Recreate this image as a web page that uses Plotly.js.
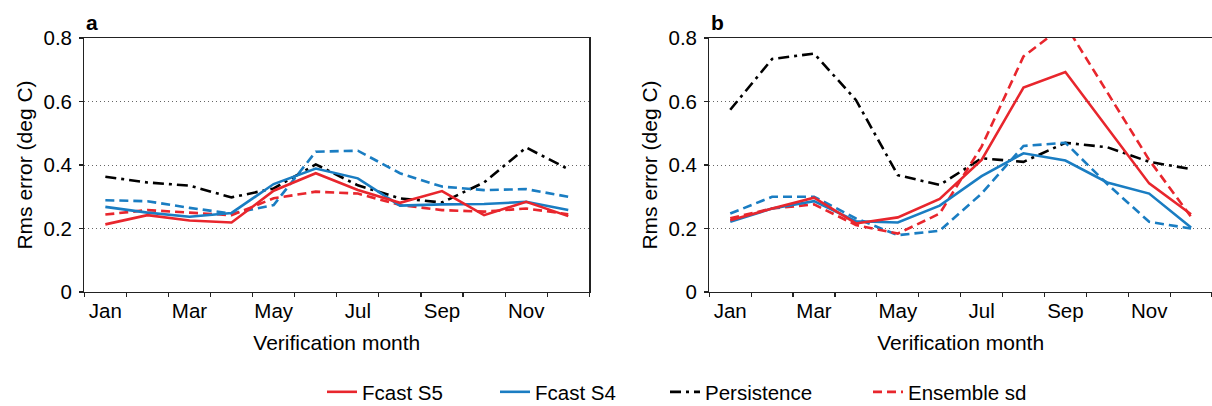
<!DOCTYPE html>
<html>
<head>
<meta charset="utf-8">
<script src="https://cdn.plot.ly/plotly-3.0.1.min.js"></script>
<style>html,body{margin:0;padding:0;background:#fff}#chart{width:1212px;height:406px}</style>
</head>
<body>
<div id="chart"></div>
<script>
// ---- data ----
const monthIndex = [1,2,3,4,5,6,7,8,9,10,11,12];
const monthNames = ['Jan','Feb','Mar','Apr','May','Jun','Jul','Aug','Sep','Oct','Nov','Dec'];
const tickMonths = [1,3,5,7,9,11];
const tickLabels = ['Jan','Mar','May','Jul','Sep','Nov'];
const yTicks = [0,0.2,0.4,0.6,0.8];
const yTickLabels = ['0','0.2','0.4','0.6','0.8'];
const seriesNames = ['Fcast S5','Fcast S4','Persistence','Ensemble sd'];

// panel a
const aFcastS5   = [0.213,0.242,0.225,0.219,0.319,0.374,0.321,0.281,0.318,0.242,0.284,0.239];
const aFcastS4   = [0.268,0.250,0.237,0.249,0.340,0.389,0.358,0.272,0.276,0.277,0.284,0.258];
const aPersist   = [0.363,0.345,0.335,0.298,0.326,0.402,0.336,0.295,0.282,0.345,0.455,0.387];
const aEnsSdS5   = [0.244,0.258,0.250,0.242,0.295,0.316,0.310,0.274,0.258,0.253,0.263,0.245];
const aEnsSdS4   = [0.289,0.286,0.265,0.247,0.274,0.442,0.445,0.374,0.332,0.321,0.324,0.300];

// panel b
const bFcastS5   = [0.226,0.263,0.297,0.216,0.235,0.293,0.416,0.644,0.693,0.516,0.342,0.245];
const bFcastS4   = [0.221,0.263,0.286,0.223,0.219,0.272,0.365,0.437,0.414,0.345,0.310,0.203];
const bPersist   = [0.574,0.734,0.751,0.605,0.368,0.337,0.421,0.410,0.470,0.456,0.410,0.387];
const bEnsSdS5   = [0.232,0.263,0.276,0.211,0.184,0.247,0.458,0.742,0.842,0.630,0.416,0.237];
const bEnsSdS4   = [0.247,0.300,0.300,0.232,0.179,0.193,0.310,0.460,0.470,0.340,0.221,0.200];

// ---- styles ----
const RED = '#e8262d', BLUE = '#1a7dc2', BLACK = '#000000';
const LW = 2.6;
const DASH = '9px,5px';
const DASHDOT = '11px,5px,3px,5px';

function tr(y, xa, ya, color, dash, name, legendId, show){
  return {x: monthIndex, y: y, xaxis: xa, yaxis: ya, type:'scatter', mode:'lines',
    name: name, legend: legendId, showlegend: show, hoverinfo:'skip',
    line:{color: color, width: LW, dash: dash}};
}

const data = [
  tr(aPersist,'x','y',BLACK,DASHDOT,seriesNames[2],'legend3',true),
  tr(aEnsSdS4,'x','y',BLUE,DASH,'S4 sd','legend',false),
  tr(aEnsSdS5,'x','y',RED,DASH,seriesNames[3],'legend4',true),
  tr(aFcastS4,'x','y',BLUE,'solid',seriesNames[1],'legend2',true),
  tr(aFcastS5,'x','y',RED,'solid',seriesNames[0],'legend',true),

  tr(bPersist,'x2','y2',BLACK,DASHDOT,seriesNames[2],'legend3',false),
  tr(bEnsSdS4,'x2','y2',BLUE,DASH,'S4 sd','legend',false),
  tr(bEnsSdS5,'x2','y2',RED,DASH,seriesNames[3],'legend4',false),
  tr(bFcastS4,'x2','y2',BLUE,'solid',seriesNames[1],'legend2',false),
  tr(bFcastS5,'x2','y2',RED,'solid',seriesNames[0],'legend',false)
];

const FONT = '"Liberation Sans", Arial, Helvetica, sans-serif';
const boundaries = monthIndex.map(m => m - 0.5).concat([12.5]);

function xax(domain, anchor){
  return {domain: domain, anchor: anchor, range:[0.5,12.5], fixedrange:true, automargin:false,
    tickmode:'array', tickvals: tickMonths, ticktext: tickLabels, ticks:'', ticklabelstandoff:0,
    tickfont:{size:20.5, color:'#000', family:FONT},
    minor:{tickmode:'array', tickvals: boundaries, ticks:'outside', ticklen:4, tickwidth:1.2, tickcolor:'#222', showgrid:false},
    showline:true, linecolor:'#222', linewidth:1.2, mirror:true, showgrid:false, zeroline:false,
    title:{text:'Verification month', font:{size:21, color:'#000', family:FONT}, standoff:14}};
}
function yax(anchor, mirror){
  return {domain:[0,1], anchor: anchor, range:[0,0.8], fixedrange:true, automargin:false,
    tickmode:'array', tickvals: yTicks, ticktext: yTickLabels, ticks:'outside', ticklen:4, tickwidth:1.2, tickcolor:'#222',
    ticklabelstandoff:3,
    tickfont:{size:20.5, color:'#000', family:FONT},
    showline:true, linecolor:'#222', linewidth:1.2, mirror: mirror,
    showgrid:true, gridcolor:'#666', gridwidth:1, griddash:'1px,3px', zeroline:false,
    title:{text:'Rms error (deg C)', font:{size:21, color:'#000', family:FONT}, standoff:5}};
}

function leg(xpx){
  return {x: xpx/1212, xref:'container', xanchor:'left', y:(406-392)/406, yref:'container', yanchor:'middle', orientation:'h',
    font:{size:20.5, color:'#000', family:FONT}, bgcolor:'rgba(0,0,0,0)', borderwidth:0};
}

const layout = {
  width:1212, height:406,
  margin:{l:0, r:0, t:38.3, b:114.3, autoexpand:false},
  paper_bgcolor:'#fff', plot_bgcolor:'#fff',
  font:{family:FONT, color:'#000'},
  xaxis: xax([84.3/1212, 589.3/1212], 'y'),
  yaxis: yax('x', true),
  xaxis2: xax([709.3/1212, 1], 'y2'),
  yaxis2: yax('x2', false),
  legend: leg(322),
  legend2: leg(495),
  legend3: leg(665),
  legend4: leg(868),
  annotations:[
    {text:'<b>a</b>', xref:'x domain', yref:'paper', x:0, y:1.06, xanchor:'left', yanchor:'middle', showarrow:false, font:{size:21, family:FONT, color:'#000'}},
    {text:'<b>b</b>', xref:'x2 domain', yref:'paper', x:0, y:1.06, xanchor:'left', yanchor:'middle', showarrow:false, font:{size:21, family:FONT, color:'#000'}}
  ]
};

Plotly.newPlot('chart', data, layout, {staticPlot:true, displayModeBar:false});
</script>
</body>
</html>
